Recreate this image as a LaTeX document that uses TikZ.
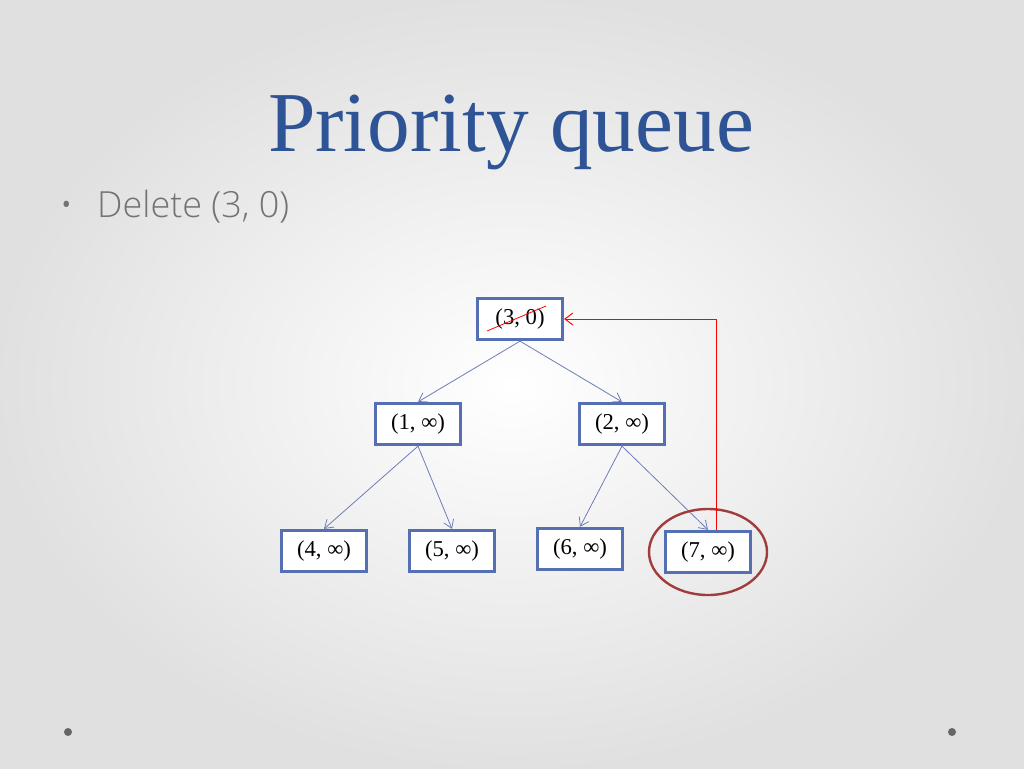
\documentclass[tikz,border=0pt]{standalone}
\usepackage{fontspec}
\setmainfont{Liberation Serif}
\newfontfamily\bodyfont{Open Sans Light}
\usetikzlibrary{arrows.meta}
\definecolor{titelblau}{RGB}{47,84,150}
\definecolor{kastenblau}{RGB}{84,112,178}
\definecolor{kantenblau}{RGB}{110,125,185}
\definecolor{kreisrot}{RGB}{160,60,60}
\tikzset{
  kasten/.style={draw=kastenblau,line width=2.2pt,fill=white,minimum width=64pt,minimum height=31pt,inner sep=0pt,font=\fontsize{17pt}{17pt}\selectfont},
  kante/.style={draw=kantenblau,-{Straight Barb[length=6pt,width=8pt]},line width=0.6pt}
}
\begin{document}
\begin{tikzpicture}[x=0.75pt,y=-0.75pt]
\shade[inner color=white,outer color=black!12] (0,0) rectangle (1024,768);
\useasboundingbox (0,0) rectangle (1024,768);
\node[text=titelblau,font=\fontsize{64pt}{64pt}\selectfont] (titel) at (511,132) {Priority queue};
\node[anchor=west,text=black!55,font=\bodyfont\fontsize{27pt}{27pt}\selectfont] (punkt) at (55,207) {\textbullet\hspace{18pt}Delete (3, 0)};
\fill[black!60] (68,732) circle (3pt) (952,732) circle (3pt);

\node[kasten] (wurzel) at (520,319) {(3, 0)};
\node[kasten] (eins) at (418,424) {(1, ∞)};
\node[kasten] (zwei) at (622,424) {(2, ∞)};
\node[kasten] (vier) at (324,551) {(4, ∞)};
\node[kasten] (fuenf) at (452,551) {(5, ∞)};
\node[kasten] (sechs) at (580,549) {(6, ∞)};
\node[kasten] (sieben) at (708,552) {(7, ∞)};
\draw[red,line width=0.6pt] (487,331) -- (546,306); % durchgestrichen

\draw[kante] (wurzel.south) -- (eins.north);
\draw[kante] (wurzel.south) -- (zwei.north);
\draw[kante] (eins.south) -- (vier.north);
\draw[kante] (eins.south) -- (fuenf.north);
\draw[kante] (zwei.south) -- (sechs.north);
\draw[kante] (zwei.south) -- (sieben.north);

\draw[kreisrot,line width=1.8pt] (sieben) ellipse (59 and 43);
\draw[red,line width=0.7pt,-{Straight Barb[length=6pt,width=9pt]}] (sieben.north -| 716,0) |- (wurzel.east);
\end{tikzpicture}
\end{document}
